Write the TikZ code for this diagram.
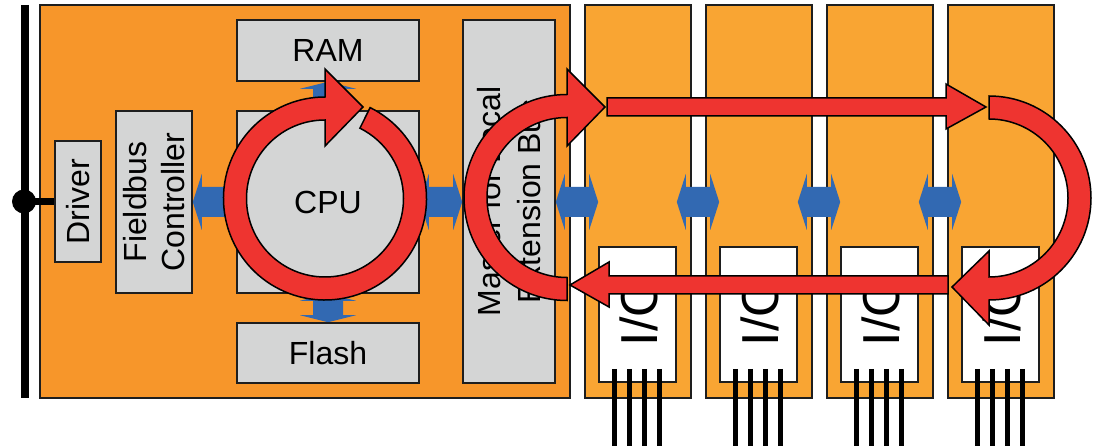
\documentclass[tikz,border=0pt]{standalone}
\usepackage{fontspec}
\setmainfont{Liberation Sans}
\usetikzlibrary{calc}
\definecolor{mainor}{RGB}{247,150,42}
\definecolor{modor}{RGB}{249,165,51}
\definecolor{greyc}{RGB}{212,213,213}
\definecolor{bluec}{RGB}{50,105,178}
\definecolor{redc}{RGB}{238,52,48}
\definecolor{edge}{RGB}{30,30,30}
\tikzset{
  every node/.style={font=\fontsize{32}{38}\selectfont, inner sep=0pt},
  mainbox/.style={draw=edge, line width=1.6, fill=mainor},
  modbox/.style={draw=edge, line width=1.6, fill=modor, minimum width=106, minimum height=393},
  greybox/.style={draw=edge, line width=1.6, fill=greyc},
  iobox/.style={draw=edge, line width=1.6, fill=white, minimum width=77, minimum height=135},
  iotext/.style={font=\fontsize{52}{60}\selectfont, rotate=90},
  pinline/.style={line width=5, draw=black},
  redarrow/.style={fill=redc, draw=black, line width=1.5, line join=miter},
  busline/.style={line width=8, draw=black}
}
\newcommand\biarrowh[2]{\path[fill=bluec] let \p1=(#1), \p2=(#2) in
  (\x1,\y1) -- (\x1+9pt,\y1+28pt) -- (\x1+9pt,\y1+15pt) -- (\x2-9pt,\y1+15pt) -- (\x2-9pt,\y1+28pt) -- (\x2,\y1)
  -- (\x2-9pt,\y1-28pt) -- (\x2-9pt,\y1-15pt) -- (\x1+9pt,\y1-15pt) -- (\x1+9pt,\y1-28pt) -- cycle;}
\newcommand\biarrowv[2]{\path[fill=bluec] let \p1=(#1), \p2=(#2) in
  (\x1,\y1) -- (\x1+28pt,\y1-7pt) -- (\x1+15pt,\y1-7pt) -- (\x1+15pt,\y2+7pt) -- (\x1+28pt,\y2+7pt) -- (\x1,\y2)
  -- (\x1-28pt,\y2+7pt) -- (\x1-15pt,\y2+7pt) -- (\x1-15pt,\y1-7pt) -- (\x1-28pt,\y1-7pt) -- cycle;}
\begin{document}
\begin{tikzpicture}[x=1pt,y=-1pt]
\useasboundingbox (0,0) rectangle (1093,446);
\clip (0,0) rectangle (1093,446);
% fieldbus line
\coordinate (bustop) at (25,5);
\coordinate (busbot) at (25,398);
\draw[busline] (bustop) -- (busbot);
% main box and modules
\node[mainbox, minimum width=530, minimum height=393] (main) at (305,201.5) {};
\node[modbox] (m1) at (638,201.5) {};
\node[modbox] (m2) at (759,201.5) {};
\node[modbox] (m3) at (880,201.5) {};
\node[modbox] (m4) at (1001,201.5) {};
% inner boxes (positions only, drawn later)
\node[greybox, minimum width=46, minimum height=121] (drv) at (78,201.5) {};
\node[circle, fill=black, minimum size=24] (tap) at (24,201.5) {};
\draw[line width=7] (tap.center) -- (drv.west);
\node[greybox, minimum width=76, minimum height=182] (fbc) at (154,202) {};
\node[greybox, minimum width=182, minimum height=182] (cpu) at (328,202) {};
\node[greybox, minimum width=92, minimum height=363] (mst) at (509,201.5) {};
\node[iobox] (io1) at (637.5,314.5) {};
\node[iobox] (io2) at (758.5,314.5) {};
\node[iobox] (io3) at (879.5,314.5) {};
\node[iobox] (io4) at (1000.5,314.5) {};
% blue bus arrows
\biarrowh{fbc.east}{cpu.west}
\biarrowh{cpu.east}{mst.west}
\biarrowh{mst.east |- cpu.east}{io1.west |- cpu.east}
\biarrowh{io1.east |- cpu.east}{io2.west |- cpu.east}
\biarrowh{io2.east |- cpu.east}{io3.west |- cpu.east}
\biarrowh{io3.east |- cpu.east}{io4.west |- cpu.east}
\node[greybox, minimum width=182, minimum height=61] (ram) at (328,50.5) {RAM};
\node[greybox, minimum width=182, minimum height=60] (flash) at (328,353) {Flash};
\biarrowv{ram.south}{cpu.north}
\biarrowv{cpu.south}{flash.north}
% redraw boxes on top of arrow ends
\node[greybox, minimum width=182, minimum height=61] at (ram) {RAM};
\node[greybox, minimum width=182, minimum height=60] at (flash) {Flash};
\node[greybox, minimum width=182, minimum height=182] at (cpu) {CPU};
\node[greybox, minimum width=76, minimum height=182] at (fbc) {};
\node[greybox, minimum width=92, minimum height=363] at (mst) {};
\node[greybox, minimum width=46, minimum height=121] at (drv) {};
\node[rotate=90] (drvt) at (drv) {Driver};
\node[rotate=90, align=center] (fbct) at (fbc) {Fieldbus\\Controller};
\node[rotate=90, align=center, font=\fontsize{32}{40}\selectfont] (mstt) at (mst) {Master for Local\\Extension Bus};
% I/O boxes
\foreach \i in {1,...,4} {
  \node[iobox] at (io\i) {};
  \node[iotext] at ($(io\i.center)+(1,-3)$) {I/O};
  \foreach \o in {30,45,60,75}
    \draw[pinline] (m\i.south west) ++(\o,-30) -- ++(0,80);
}
% red cycle arrows
\draw[redarrow] (325,198.5) ++(-63.6:101.5) arc[start angle=-63.6, end angle=270, radius=101.5]
  -- (325,69) -- (363,107) -- (325,146) -- (325,120)
  arc[start angle=270, end angle=-63.6, radius=78.5] -- cycle;
\draw[redarrow] (567,300.5) arc[start angle=90, end angle=270, radius=103]
  -- (567,69) -- (605,107) -- (567,146) -- (567,117.5)
  arc[start angle=270, end angle=90, radius=80] -- cycle;
\draw[redarrow] (607,98) -- (946,98) -- (946,84) -- (986,107) -- (946,129) -- (946,116) -- (607,116) -- cycle;
\draw[redarrow] (989,96) arc[start angle=-90, end angle=90, radius=102]
  -- (989,325) -- (952,287) -- (989,251) -- (989,277)
  arc[start angle=90, end angle=-90, radius=79] -- cycle;
\draw[redarrow] (948,276) -- (609,276) -- (609,262) -- (570,285) -- (609,307) -- (609,294) -- (948,294) -- cycle;
\end{tikzpicture}
\end{document}
